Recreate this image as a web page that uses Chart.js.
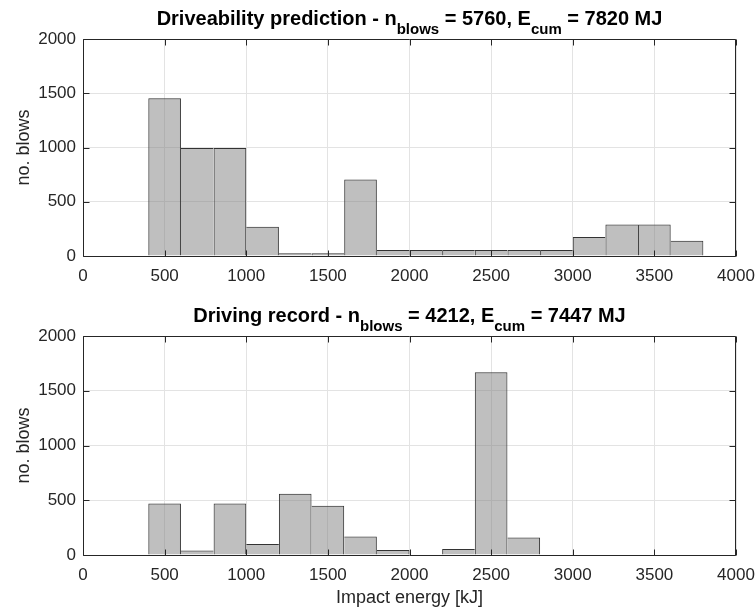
<!DOCTYPE html>
<html><head><meta charset="utf-8">
<script src="https://cdn.jsdelivr.net/npm/chart.js@4.4.0/dist/chart.umd.min.js"></script>
<style>
html,body{margin:0;padding:0;background:#fff;}
#wrap{position:relative;width:756px;height:613px;overflow:hidden;}
#c1{position:absolute;left:0;top:0;}
#c2{position:absolute;left:0;top:296px;}
</style></head><body>
<div id="wrap"><canvas id="c1" width="756" height="296"></canvas><canvas id="c2" width="756" height="317"></canvas></div>
<script>
// ---- data ----
const predictionCenters = [500,700,900,1100,1300,1500,1700,1900,2100,2300,2500,2700,2900,3100,3300,3500,3700];
const predictionCounts  = [1455,995,995,270,25,25,705,55,55,55,55,55,55,175,290,290,140];
const recordCenters = [500,700,900,1100,1300,1500,1700,1900,2100,2300,2500,2700];
const recordCounts  = [470,40,470,100,560,450,170,45,null,55,1670,160];
const xTickValues = [0,500,1000,1500,2000,2500,3000,3500,4000];
const yTickValues = [0,500,1000,1500,2000];
const predictionTitle = ['Driveability prediction - n', 'blows', ' = 5760, E', 'cum', ' = 7820 MJ'];
const recordTitle     = ['Driving record - n', 'blows', ' = 4212, E', 'cum', ' = 7447 MJ'];
const yLabel = 'no. blows';
const xLabel = 'Impact energy [kJ]';

const FONT = "'Liberation Sans', Arial, Helvetica, sans-serif";
Chart.defaults.font.family = FONT;
const AX = '#262626';

function edgeWidths(counts){
  return ctx => {
    const i = ctx.dataIndex;
    const c = counts[i] || 0;
    const p = i > 0 ? (counts[i-1] || 0) : 0;
    const n = i < counts.length - 1 ? (counts[i+1] || 0) : 0;
    return {top: 1, bottom: 0, left: p <= c ? 1 : 0, right: n < c ? 1 : 0};
  };
}

const boxPlugin = {
  id: 'matlabBox',
  afterDatasetsDraw(chart, args, opts){
    const {ctx, chartArea: {left, right, top, bottom}, scales: {x, y}} = chart;
    ctx.save();
    ctx.strokeStyle = AX;
    ctx.lineWidth = 1;
    const L = Math.round(left) + 0.5, R = Math.round(right) - 0.5;
    const T = Math.round(top) + 0.5, B = Math.round(bottom) + 0.5;
    ctx.beginPath();
    ctx.rect(L, T, R - L, B - T);
    const tl = 6;
    xTickValues.forEach(v => {
      const px = Math.round(x.getPixelForValue(v)) + 0.5;
      ctx.moveTo(px, B); ctx.lineTo(px, B - tl);
      ctx.moveTo(px, T); ctx.lineTo(px, T + tl);
    });
    yTickValues.forEach(v => {
      const py = Math.round(y.getPixelForValue(v)) + 0.5;
      ctx.moveTo(L, py); ctx.lineTo(L + tl, py);
      ctx.moveTo(R, py); ctx.lineTo(R - tl, py);
    });
    ctx.stroke();
    // title with subscripts
    const segs = opts.segments || [];
    const mainF = 'bold 20px ' + FONT, subF = 'bold 15px ' + FONT;
    let total = 0;
    segs.forEach((s, i) => { ctx.font = (i % 2) ? subF : mainF; total += ctx.measureText(s).width; });
    let cx = (left + right) / 2 - total / 2;
    ctx.fillStyle = '#000';
    ctx.textBaseline = 'alphabetic';
    ctx.textAlign = 'left';
    segs.forEach((s, i) => {
      const sub = i % 2 === 1;
      ctx.font = sub ? subF : mainF;
      ctx.fillText(s, cx, sub ? top - 5.5 : top - 14.5);
      cx += ctx.measureText(s).width;
    });
    ctx.restore();
  }
};

function makeChart(id, centers, counts, titleSegs, xAxisHeight, showXTitle){
  return new Chart(document.getElementById(id), {
    type: 'bar',
    data: {
      datasets: [{
        data: centers.map((c, i) => ({x: c, y: counts[i]})),
        backgroundColor: 'rgba(128,128,128,0.5)',
        borderColor: '#333333',
        borderWidth: edgeWidths(counts),
        borderSkipped: false,
        inflateAmount: 0,
        categoryPercentage: 1.0,
        barPercentage: 1.0
      }]
    },
    options: {
      responsive: false,
      animation: false,
      devicePixelRatio: 1,
      events: [],
      layout: {padding: {top: id === 'c1' ? 39 : 40, left: 0, right: 20, bottom: 0}},
      plugins: {legend: {display: false}, tooltip: {enabled: false}, title: {display: false},
                matlabBox: {segments: titleSegs}},
      scales: {
        x: {
          type: 'linear', min: 0, max: 4000, offset: false,
          afterBuildTicks: s => { s.ticks = xTickValues.map(v => ({value: v})); },
          afterFit: s => { s.height = xAxisHeight; s.paddingLeft = 0; s.paddingRight = 0; },
          grid: {color: '#e3e3e3', drawTicks: false, lineWidth: 1, offset: false},
          border: {display: false},
          ticks: {padding: 10, color: AX, font: {size: 17}, maxRotation: 0, autoSkip: false,
                  callback: v => String(v)},
          title: {display: showXTitle, text: xLabel, color: AX, font: {size: 18}, padding: {top: 0, bottom: 4}}
        },
        y: {
          min: 0, max: 2000,
          afterBuildTicks: s => { s.ticks = yTickValues.map(v => ({value: v})); },
          afterFit: s => { s.width = 83; s.paddingTop = 0; s.paddingBottom = 0; },
          grid: {color: '#e3e3e3', drawTicks: false, lineWidth: 1},
          border: {display: false},
          ticks: {padding: 7, color: AX, font: {size: 17}, callback: v => String(v)},
          title: {display: true, text: yLabel, color: AX, font: {size: 18}, padding: {top: 13, bottom: 0}}
        }
      }
    },
    plugins: [boxPlugin]
  });
}

makeChart('c1', predictionCenters, predictionCounts, predictionTitle, 40, false);
makeChart('c2', recordCenters, recordCounts, recordTitle, 58, true);
</script>
</body></html>
